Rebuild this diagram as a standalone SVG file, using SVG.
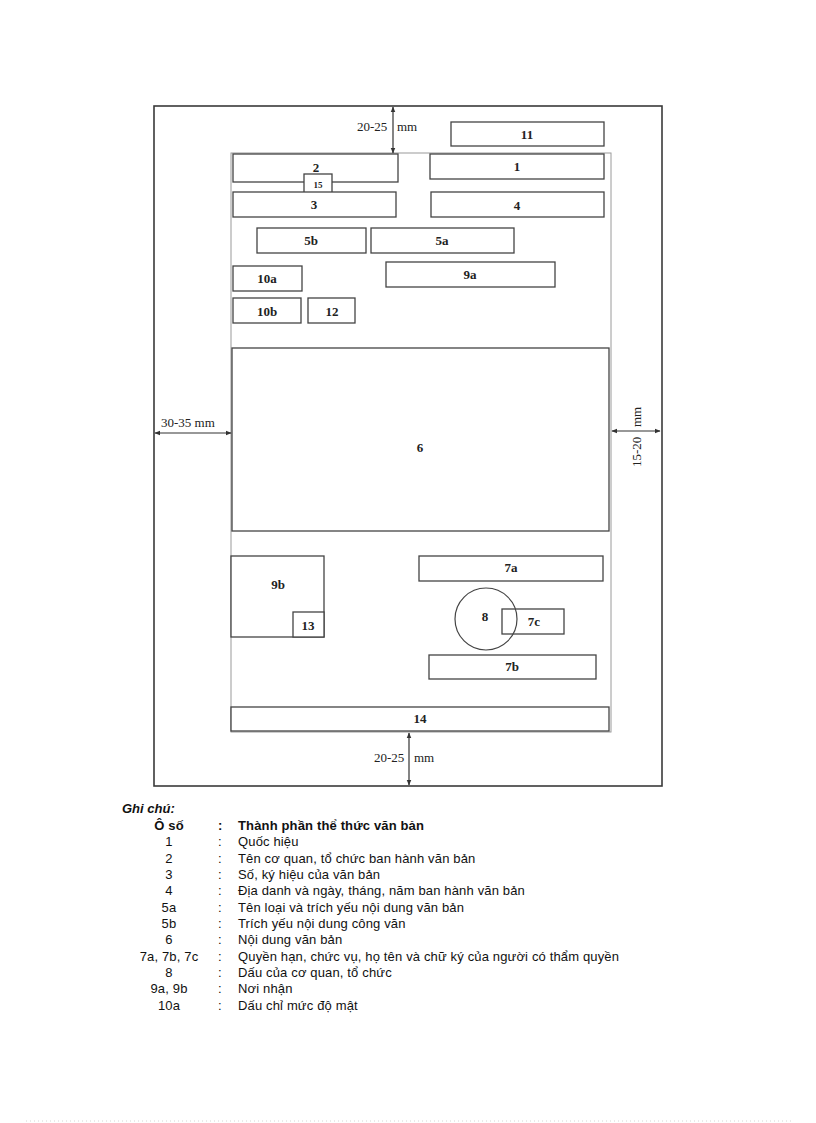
<svg xmlns="http://www.w3.org/2000/svg" width="816" height="1123" viewBox="0 0 816 1123">
<style>
.page{fill:none;stroke:#3a3a3a;stroke-width:1.6}
.frame{fill:none;stroke:#9a9a9a;stroke-width:1}
.box{fill:#fff;stroke:#444;stroke-width:1.3}
.lbl{font-family:"Liberation Serif","Times New Roman",serif;font-weight:bold;font-size:13px;fill:#222;text-anchor:middle}
.dim{font-family:"Liberation Serif","Times New Roman",serif;font-size:13px;fill:#222}
.dl{stroke:#333;stroke-width:1.2;fill:none}
.lg{font-family:"Liberation Sans",Arial,sans-serif;font-size:13px;letter-spacing:0.15px;fill:#111}
.c{text-anchor:middle}
</style>
<defs>
<marker id="ah" viewBox="0 0 10 10" refX="9" refY="5" markerWidth="5" markerHeight="5" orient="auto-start-reverse">
<path d="M0,1 L10,5 L0,9 z" fill="#333"/>
</marker>
</defs>
<rect width="816" height="1123" fill="#fff"/>
<g id="page">
<rect class="page" x="154" y="106" width="508" height="680"/>
<rect class="frame" x="231" y="153" width="380" height="579"/>
</g>
<g id="n11"><rect class="box" x="451" y="122" width="153" height="24"/><text class="lbl" x="527" y="139">11</text></g>
<g id="n2"><rect class="box" x="233" y="154" width="165" height="28"/><text class="lbl" x="316" y="172">2</text></g>
<g id="n1"><rect class="box" x="430" y="154" width="174" height="25"/><text class="lbl" x="517" y="171">1</text></g>
<g id="n15"><rect class="box" x="304" y="174" width="28" height="20"/><text class="lbl" x="318" y="188" style="font-size:9px">15</text></g>
<g id="n3"><rect class="box" x="233" y="192" width="163" height="25"/><text class="lbl" x="314" y="209">3</text></g>
<g id="n4"><rect class="box" x="431" y="192" width="173" height="25"/><text class="lbl" x="517" y="210">4</text></g>
<g id="n5b"><rect class="box" x="257" y="228" width="109" height="25"/><text class="lbl" x="311" y="245">5b</text></g>
<g id="n5a"><rect class="box" x="371" y="228" width="143" height="25"/><text class="lbl" x="442" y="245">5a</text></g>
<g id="n10a"><rect class="box" x="233" y="266" width="69" height="25"/><text class="lbl" x="267" y="283">10a</text></g>
<g id="n9a"><rect class="box" x="386" y="262" width="169" height="25"/><text class="lbl" x="470" y="279">9a</text></g>
<g id="n10b"><rect class="box" x="233" y="298" width="68" height="25"/><text class="lbl" x="267" y="316">10b</text></g>
<g id="n12"><rect class="box" x="308" y="298" width="47" height="25"/><text class="lbl" x="332" y="316">12</text></g>
<g id="n6"><rect class="box" x="232" y="348" width="377" height="183"/><text class="lbl" x="420" y="452">6</text></g>
<g id="n9b"><rect class="box" x="231" y="556" width="93" height="81"/><text class="lbl" x="278" y="589">9b</text></g>
<g id="n13"><rect class="box" x="293" y="612" width="31" height="25"/><text class="lbl" x="308" y="630">13</text></g>
<g id="n7a"><rect class="box" x="419" y="556" width="184" height="25"/><text class="lbl" x="511" y="572">7a</text></g>
<g id="n7c"><rect class="box" x="502" y="609" width="62" height="25"/><text class="lbl" x="534" y="626">7c</text></g>
<g id="n8"><circle cx="486" cy="619" r="31" fill="none" stroke="#444" stroke-width="1.2"/><text class="lbl" x="485" y="621">8</text></g>
<g id="n7b"><rect class="box" x="429" y="655" width="167" height="24"/><text class="lbl" x="512" y="671">7b</text></g>
<g id="n14"><rect class="box" x="231" y="707" width="378" height="24"/><text class="lbl" x="420" y="723">14</text></g>
<g id="connectors">
<line class="dl" x1="393" y1="107" x2="393" y2="153" marker-start="url(#ah)" marker-end="url(#ah)"/>
<line class="dl" x1="409" y1="733" x2="409" y2="785" marker-start="url(#ah)" marker-end="url(#ah)"/>
<line class="dl" x1="155" y1="433" x2="231" y2="433" marker-start="url(#ah)" marker-end="url(#ah)"/>
<line class="dl" x1="612" y1="431" x2="660" y2="431" marker-start="url(#ah)" marker-end="url(#ah)"/>
</g>
<g id="dimlabels">
<text class="dim"><tspan x="357" y="131">20-25</tspan><tspan x="397" y="131">mm</tspan></text>
<text class="dim"><tspan x="374" y="762">20-25</tspan><tspan x="414" y="762">mm</tspan></text>
<text class="dim" x="161" y="427">30-35 mm</text>
<text class="dim" transform="translate(641,436) rotate(-90)"><tspan x="-31" y="0">15-20</tspan><tspan x="9" y="0">mm</tspan></text>
</g>
<g id="legend">
<text class="lg" x="122" y="813" style="font-weight:bold;font-style:italic;letter-spacing:0">Ghi chú:</text>
<text class="lg c" x="169" y="830" style="font-weight:bold">Ô số</text>
<text class="lg" x="218" y="830" style="font-weight:bold">:</text>
<text class="lg" x="238" y="830" style="font-weight:bold">Thành phần thể thức văn bản</text>
<text class="lg c" x="169" y="846">1</text><text class="lg" x="218" y="846">:</text><text class="lg" x="238" y="846">Quốc hiệu</text>
<text class="lg c" x="169" y="863">2</text><text class="lg" x="218" y="863">:</text><text class="lg" x="238" y="863">Tên cơ quan, tổ chức ban hành văn bản</text>
<text class="lg c" x="169" y="879">3</text><text class="lg" x="218" y="879">:</text><text class="lg" x="238" y="879">Số, ký hiệu của văn bản</text>
<text class="lg c" x="169" y="895">4</text><text class="lg" x="218" y="895">:</text><text class="lg" x="238" y="895">Địa danh và ngày, tháng, năm ban hành văn bản</text>
<text class="lg c" x="169" y="912">5a</text><text class="lg" x="218" y="912">:</text><text class="lg" x="238" y="912">Tên loại và trích yếu nội dung văn bản</text>
<text class="lg c" x="169" y="928">5b</text><text class="lg" x="218" y="928">:</text><text class="lg" x="238" y="928">Trích yếu nội dung công văn</text>
<text class="lg c" x="169" y="944">6</text><text class="lg" x="218" y="944">:</text><text class="lg" x="238" y="944">Nội dung văn bản</text>
<text class="lg c" x="169" y="961">7a, 7b, 7c</text><text class="lg" x="218" y="961">:</text><text class="lg" x="238" y="961">Quyền hạn, chức vụ, họ tên và chữ ký của người có thẩm quyền</text>
<text class="lg c" x="169" y="977">8</text><text class="lg" x="218" y="977">:</text><text class="lg" x="238" y="977">Dấu của cơ quan, tổ chức</text>
<text class="lg c" x="169" y="993">9a, 9b</text><text class="lg" x="218" y="993">:</text><text class="lg" x="238" y="993">Nơi nhận</text>
<text class="lg c" x="169" y="1010">10a</text><text class="lg" x="218" y="1010">:</text><text class="lg" x="238" y="1010">Dấu chỉ mức độ mật</text>
</g>
<line x1="26" y1="1121" x2="792" y2="1121" stroke="#bbb" stroke-width="0.6" stroke-dasharray="1 3"/>
</svg>
